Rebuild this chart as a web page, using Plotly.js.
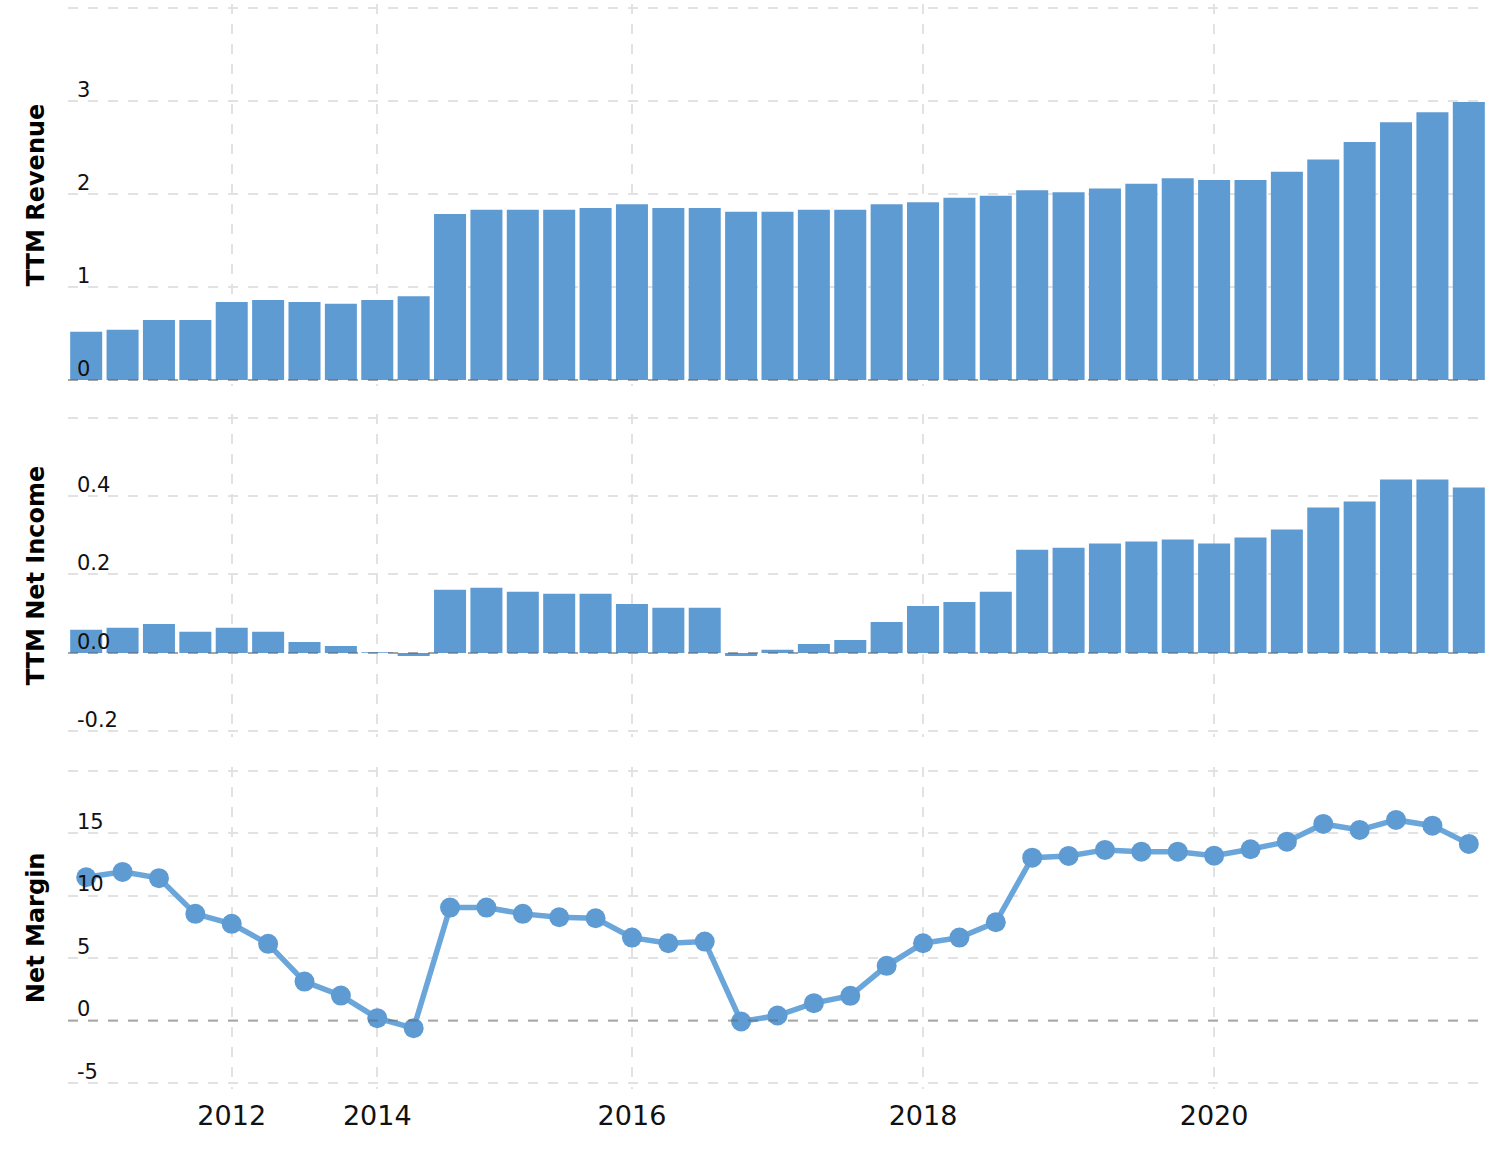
<!DOCTYPE html>
<html><head><meta charset="utf-8">
<script src="https://cdn.plot.ly/plotly-3.0.1.min.js"></script>
<style>html,body{margin:0;padding:0;background:#fff}</style>
</head><body><div id="chart" style="width:1510px;height:1150px"></div>
<script>
const dates = [
  "2011-03-31","2011-06-30","2011-09-30","2011-12-31",
  "2012-06-30","2012-12-31","2013-06-30","2013-12-31",
  "2014-06-30","2014-09-30","2014-12-31",
  "2015-03-31","2015-06-30","2015-09-30","2015-12-31",
  "2016-03-31","2016-06-30","2016-09-30","2016-12-31",
  "2017-03-31","2017-06-30","2017-09-30","2017-12-31",
  "2018-03-31","2018-06-30","2018-09-30","2018-12-31",
  "2019-03-31","2019-06-30","2019-09-30","2019-12-31",
  "2020-03-31","2020-06-30","2020-09-30","2020-12-31",
  "2021-03-31","2021-06-30","2021-09-30","2021-12-31"
];
const revenue = [
  0.52,0.54,0.645,0.645,
  0.84,0.86,0.84,0.82,
  0.86,0.90,1.785,
  1.83,1.83,1.83,1.85,
  1.89,1.85,1.85,1.81,
  1.81,1.83,1.83,1.89,
  1.91,1.96,1.98,2.04,
  2.02,2.06,2.11,2.17,
  2.15,2.15,2.24,2.37,
  2.56,2.77,2.88,2.99
];
const netIncome = [
  0.059,0.064,0.074,0.054,
  0.064,0.054,0.028,0.018,
  0.002,-0.008,0.161,
  0.166,0.156,0.151,0.151,
  0.125,0.115,0.115,-0.008,
  0.008,0.023,0.033,0.079,
  0.12,0.13,0.156,0.263,
  0.268,0.279,0.284,0.289,
  0.279,0.294,0.315,0.371,
  0.386,0.442,0.442,0.422
];
const netMargin = [
  11.47,11.9,11.4,8.54,
  7.74,6.14,3.12,2.0,
  0.19,-0.61,9.04,
  9.04,8.54,8.27,8.19,
  6.64,6.19,6.32,-0.08,
  0.4,1.39,1.98,4.38,
  6.19,6.64,7.87,13.04,
  13.18,13.66,13.52,13.52,
  13.2,13.71,14.32,15.74,
  15.26,16.06,15.6,14.14
];
const revTicks = [0,1,2,3,4];
const niTicks = [-0.2,0,0.2,0.4,0.6];
const nmTicks = [-5,0,5,10,15,20];

// year ticks: first period of each even year
const tickIdx = [];
dates.forEach((d,i)=>{
  const y = +d.slice(0,4);
  if ((i===0 || y !== +dates[i-1].slice(0,4)) && y%2===0) tickIdx.push(i);
});
const xTickVals = tickIdx.map(i=>dates[i]);
const xTickText = tickIdx.map(i=>dates[i].slice(0,4));

const barColor = '#5f9bd3';
const gridColor = '#e2e2e2';
const fontFam = 'DejaVu Sans, Verdana, sans-serif';

function lbl(arr, fmt){ return arr.map((v,i)=> i===arr.length-1 ? '' : fmt(v)); }

const traces = [
  {type:'bar', x:dates, y:revenue, xaxis:'x', yaxis:'y', marker:{color:barColor, line:{width:0}}, hoverinfo:'x+y'},
  {type:'bar', x:dates, y:netIncome, xaxis:'x', yaxis:'y2', marker:{color:barColor, line:{width:0}}, hoverinfo:'x+y'},
  {type:'scatter', mode:'lines+markers', x:dates, y:netMargin, xaxis:'x', yaxis:'y3',
   line:{color:'#6aa6da', width:5.5}, marker:{color:barColor, size:20}, hoverinfo:'x+y'}
];

function yax(domain, range, ticks, fmt, title){
  return {
    domain: domain, range: range, tickmode:'array', tickvals: ticks, ticktext: lbl(ticks, fmt),
    ticklabelposition:'inside top', ticklabelstandoff:6, ticklabelshift:3,
    ticks:'', showline:false, zeroline:false,
    showgrid:true, gridcolor:gridColor, gridwidth:2, griddash:'10px,10px',
    tickfont:{family:fontFam, size:21, color:'#111'},
    title:{text:title, font:{family:fontFam, size:24, color:'#000', weight:'bold'}, standoff:25},
    fixedrange:true
  };
}

const zeroShape = (yref)=>({type:'line', xref:'x domain', x0:0, x1:1, yref:yref, y0:0, y1:0,
  line:{color:'rgba(90,90,90,0.45)', width:2, dash:'10px,10px'}, layer:'above'});

const layout = {
  width:1510, height:1150,
  margin:{l:68, r:23, t:2, b:61},
  paper_bgcolor:'#fff', plot_bgcolor:'#fff',
  showlegend:false, bargap:0.12,
  font:{family:fontFam, color:'#111'},
  xaxis:{type:'category', anchor:'y3', range:[-0.5, dates.length-0.5],
    tickmode:'array', tickvals:xTickVals, ticktext:xTickText, ticks:'', ticklabelstandoff:8,
    showgrid:true, gridcolor:gridColor, gridwidth:2, griddash:'10px,10px',
    showline:false, zeroline:false, tickfont:{family:fontFam, size:27, color:'#111'}, fixedrange:true},
  yaxis: yax([0.6467,0.9982], [-0.0645,4.043], revTicks, v=>String(v), 'TTM Revenue'),
  yaxis2: yax([0.3234,0.6214], [-0.2153,0.6102], niTicks, v=>v.toFixed(1), 'TTM Net Income'),
  yaxis3: yax([0,0.2965], [-5.48,20.32], nmTicks, v=>String(v), 'Net Margin'),
  shapes:[zeroShape('y'), zeroShape('y2'), zeroShape('y3')]
};
Plotly.newPlot('chart', traces, layout, {displayModeBar:false, staticPlot:true});
</script></body></html>
